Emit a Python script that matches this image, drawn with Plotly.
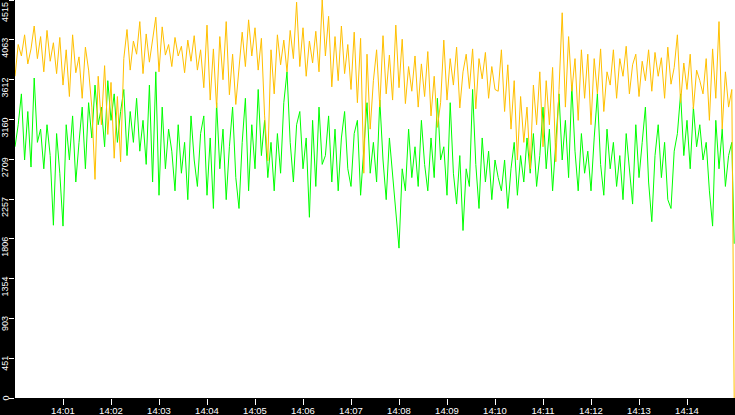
import plotly.graph_objects as go
import pandas as pd

# 4秒ごとのサンプル値（最後の点は14:14:59）
orange = [
    3650, 4010, 3880, 4120, 3790, 3960,
    4220, 3850,
    4100, 3700, 4170, 3820, 4030, 3680,
    4090, 3550, 3950, 3420, 4120, 3690, 3870, 3400, 3980,
    3720, 3300, 2480, 3650, 3100, 3770, 2990, 3580, 2720, 3420, 2680,
    3850, 4180, 3720, 4050, 3900, 4270, 3680, 4130, 3810, 4060, 4320, 3700, 4210, 3890, 4010,
    3760, 4090, 3880, 3990, 3690, 4060, 3820, 4110, 3720, 3950,
    3520, 4230, 3380, 3960, 3290, 4100, 3610, 4270, 3440, 3900, 3330, 3780, 4150,
    3760, 4290, 3880, 4200, 3720, 4080,
    3200, 2690, 3950, 3450,
    4120, 3780, 4060, 3700, 4170, 3850, 4490,
    3760, 4200, 3650, 4050, 3800, 4160, 3700, 4515,
    3880, 4330, 3530, 4100, 3600, 4220, 3680, 4010, 3500, 4150,
    3350, 4080, 2550, 3900, 3050, 3600,
    3950, 3300, 4110, 3450, 3890, 3380, 4230, 3520, 4070, 3340, 3760, 3480,
    3880, 3300, 3790, 3420, 3930, 3200, 3650, 3070, 3350,
    4060, 3380, 3850, 3550, 3980, 3290, 3700, 3900,
    3510, 3960, 3280, 3850, 3620, 3920, 3400, 3760, 3500, 3480,
    3950, 3250, 3780,
    3050, 3600, 2700, 3420, 2900, 3300, 2600, 3550, 3100,
    3700, 2850, 3600, 3100, 3750, 2680, 3500,
    4370, 3300, 4100, 3480, 3850, 3150, 3950, 3400,
    3900, 3100, 3850, 3450, 3960, 3250, 3700, 3550,
    3950, 3400, 3850, 3650, 3990, 3450, 3780, 3900, 3420, 3820, 3600, 3950,
    3480, 3920, 3650, 3860, 3400, 3980, 3560, 3750,
    4120, 3350, 3800, 3500, 3900, 3280, 3720, 3600, 3450,
    3850, 3150, 3960, 3400, 4270, 3050, 3700, 3300,
    3500, 0,
]

green = [
    2850, 3100, 3450, 2700, 3250, 2620,
    3630, 2900,
    3050, 2600, 3100, 2750, 1960, 3000,
    2550, 1950, 3100, 2700, 3200, 2450, 2900, 3300, 2600,
    3350, 2950, 3550, 3100, 3300, 2850, 3600, 3150, 3450, 2900, 3250,
    3500, 2750, 3250, 2900, 3400, 2800, 3150, 2650, 3550, 2450, 3700, 2300, 3300, 2600, 3050,
    2800, 2350, 3100, 2550, 2900, 2250, 3200, 2700, 2400, 3000,
    3200, 2300, 2950, 2150, 3350, 2600, 3050, 2250, 2850, 3300, 2500, 2150, 2900,
    3400, 2350, 3100, 2600, 3500, 2750,
    3150, 2500, 2900, 2350,
    3000, 2550, 3350, 3700, 2900, 2450, 3100,
    3250, 2600, 2950, 2050, 3150, 2400, 3300, 2650,
    2750, 3200, 2450, 3050, 2350, 2950, 3250, 2600, 2400, 3000,
    3150, 2300, 2800, 3350, 2550, 2900,
    2450, 3380, 2700, 2250, 2950, 2550, 2150, 1700, 2600, 2350, 3050, 2500,
    2850, 2400, 3150, 2650, 2350, 2950, 2500, 3400, 2700,
    2850, 2300, 3350, 2550, 2200, 2750, 1900, 2600,
    2400, 3500, 2650, 2150, 2950, 2450, 2800, 2250, 2700, 2500,
    2350, 2700, 2150,
    2600, 2900, 2300, 2750, 2450, 2950, 2550, 3000, 2400,
    2750, 3300, 2600, 3050, 2350, 2900, 3450,
    2700, 3150, 2500, 3550, 2800, 2350, 3000, 2550,
    2800, 2350, 2950, 3450, 2650, 2300, 3050, 2600,
    2900, 2400, 2750, 2250, 3000, 2600, 2200, 3100, 2500, 2900, 3300, 2450,
    2000, 2750, 3100, 2500, 2900, 2250, 2150, 2800,
    3000, 3450, 2750, 3150, 2600, 3300, 2850, 3100, 2700,
    2900, 2350, 1950, 3150, 2600, 3050, 2400, 2750,
    2900, 1750,
]

y_tick_values = [0, 451.5, 903, 1354.5, 1806, 2257.5, 2709, 3160.5, 3612, 4063.5, 4515]
y_tick_labels = ["0", "451", "903", "1354", "1806", "2257", "2709", "3160", "3612", "4063", "4515"]
x_tick_labels = ["14:01", "14:02", "14:03", "14:04", "14:05", "14:06", "14:07",
                 "14:08", "14:09", "14:10", "14:11", "14:12", "14:13", "14:14"]

day = "2024-01-01 "
times = list(pd.date_range(day + "14:00:00", periods=len(orange) - 1, freq="4s"))
times.append(pd.Timestamp(day + "14:14:59"))

fig = go.Figure()
fig.add_trace(go.Scatter(x=times, y=green, mode="lines",
                         line=dict(color="#00ff00", width=1)))
fig.add_trace(go.Scatter(x=times, y=orange, mode="lines",
                         line=dict(color="#ffc000", width=1)))

# 縦軸ラベル（回転、目盛りの少し上から下へ）
annotations = []
for v, lab in zip(y_tick_values, y_tick_labels):
    annotations.append(dict(
        x=0, xref="paper", xanchor="right", xshift=-4,
        y=v, yref="y", yanchor="top", yshift=3 if v < 4515 else -1,
        text=lab, textangle=-90, showarrow=False, borderpad=0,
        font=dict(color="white", size=9, family="Liberation Sans"),
    ))

fig.update_layout(
    width=735, height=415,
    margin=dict(l=15, r=0, t=0, b=17),
    paper_bgcolor="black",
    plot_bgcolor="white",
    showlegend=False,
    annotations=annotations,
)
fig.update_xaxes(
    range=[day + "14:00:00", day + "14:15:00"],
    tickvals=[pd.Timestamp(day + t) for t in x_tick_labels],
    ticktext=x_tick_labels,
    ticks="outside", ticklen=6, tickcolor="white", tickwidth=1,
    ticklabelstandoff=-2,
    tickfont=dict(color="white", size=9.5, family="Liberation Sans"),
    showgrid=False, zeroline=False, showline=False, automargin=False,
)
fig.update_yaxes(
    range=[0, 4515],
    tickvals=y_tick_values,
    ticks="outside", ticklen=5, tickcolor="white", tickwidth=1,
    showticklabels=False,
    showgrid=False, zeroline=False, showline=False, automargin=False,
)

fig.write_html("out.html", config={"displayModeBar": False},
               post_script="document.body.style.margin='0';")
